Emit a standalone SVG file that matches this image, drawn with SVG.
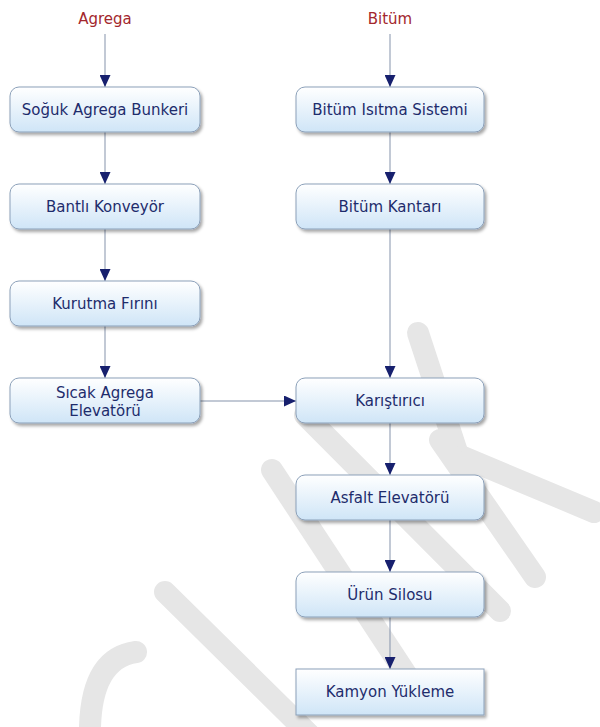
<svg xmlns="http://www.w3.org/2000/svg" width="600" height="727" viewBox="0 0 600 727">
<defs>
<linearGradient id="boxGrad" x1="0" y1="0" x2="0" y2="1">
<stop offset="0" stop-color="#ffffff"/>
<stop offset="1" stop-color="#cfe5f7"/>
</linearGradient>
<filter id="shadow" x="-10%" y="-20%" width="125%" height="150%">
<feDropShadow dx="2" dy="2.5" stdDeviation="1.5" flood-color="#000" flood-opacity="0.35"/>
</filter>
<marker id="arrow" viewBox="0 0 12 11" refX="12" refY="5.5" markerWidth="12" markerHeight="11" markerUnits="userSpaceOnUse" orient="auto">
<path d="M0,0 L12,5.5 L0,11 Z" fill="#17206e"/>
</marker>
</defs>
<style>
.box{fill:url(#boxGrad);stroke:#8ba0b9;stroke-width:1;filter:url(#shadow)}
.lbl{font-family:"DejaVu Sans",Verdana,sans-serif;font-size:15px;fill:#1e2c6c;text-anchor:middle}
.src{font-family:"DejaVu Sans",Verdana,sans-serif;font-size:15px;fill:#a3272d;text-anchor:middle}
.conn{stroke:#8593ab;stroke-width:1;fill:none;marker-end:url(#arrow)}
.wm{stroke:#e6e6e6;stroke-width:22;stroke-linecap:round;stroke-linejoin:round;fill:none}
</style>
<rect width="600" height="727" fill="#ffffff"/>

<g id="watermark">
<path class="wm" d="M136,652 Q92,658 90,727"/>
<line class="wm" x1="165" y1="592" x2="320" y2="745"/>
<line class="wm" x1="272" y1="470" x2="410" y2="680"/>
<line class="wm" x1="305" y1="415" x2="500" y2="611"/>
<line class="wm" x1="418" y1="333" x2="458" y2="455"/>
<line class="wm" x1="458" y1="455" x2="594" y2="512"/>
<line class="wm" x1="440" y1="440" x2="535" y2="577"/>
</g>

<text class="src" x="105" y="24">Agrega</text>
<text class="src" x="390" y="24">Bitüm</text>

<g id="connectors">
<line class="conn" x1="105" y1="34" x2="105" y2="87"/>
<line class="conn" x1="390" y1="34" x2="390" y2="87"/>
<line class="conn" x1="105" y1="132" x2="105" y2="184"/>
<line class="conn" x1="105" y1="229" x2="105" y2="281"/>
<line class="conn" x1="105" y1="326" x2="105" y2="378"/>
<line class="conn" x1="390" y1="132" x2="390" y2="184"/>
<line class="conn" x1="390" y1="229" x2="390" y2="378"/>
<line class="conn" x1="200" y1="401" x2="296" y2="401"/>
<line class="conn" x1="390" y1="423" x2="390" y2="475"/>
<line class="conn" x1="390" y1="520" x2="390" y2="572"/>
<line class="conn" x1="390" y1="617" x2="390" y2="669"/>
</g>

<g id="n1"><rect class="box" x="10" y="87" width="190" height="45" rx="9"/><text class="lbl" x="105" y="115">Soğuk Agrega Bunkeri</text></g>
<g id="n2"><rect class="box" x="10" y="184" width="190" height="45" rx="9"/><text class="lbl" x="105" y="212">Bantlı Konveyör</text></g>
<g id="n3"><rect class="box" x="10" y="281" width="190" height="45" rx="9"/><text class="lbl" x="105" y="309">Kurutma Fırını</text></g>
<g id="n4"><rect class="box" x="10" y="378" width="190" height="45" rx="9"/><text class="lbl" x="105" y="398">Sıcak Agrega</text><text class="lbl" x="105" y="416">Elevatörü</text></g>
<g id="n5"><rect class="box" x="296" y="87" width="188" height="45" rx="9"/><text class="lbl" x="390" y="115">Bitüm Isıtma Sistemi</text></g>
<g id="n6"><rect class="box" x="296" y="184" width="188" height="45" rx="9"/><text class="lbl" x="390" y="212">Bitüm Kantarı</text></g>
<g id="n7"><rect class="box" x="296" y="378" width="188" height="45" rx="9"/><text class="lbl" x="390" y="406">Karıştırıcı</text></g>
<g id="n8"><rect class="box" x="296" y="475" width="188" height="45" rx="9"/><text class="lbl" x="390" y="503">Asfalt Elevatörü</text></g>
<g id="n9"><rect class="box" x="296" y="572" width="188" height="45" rx="9"/><text class="lbl" x="390" y="600">Ürün Silosu</text></g>
<g id="n10"><rect class="box" x="296" y="669" width="188" height="46" rx="0"/><text class="lbl" x="390" y="697">Kamyon Yükleme</text></g>
</svg>
